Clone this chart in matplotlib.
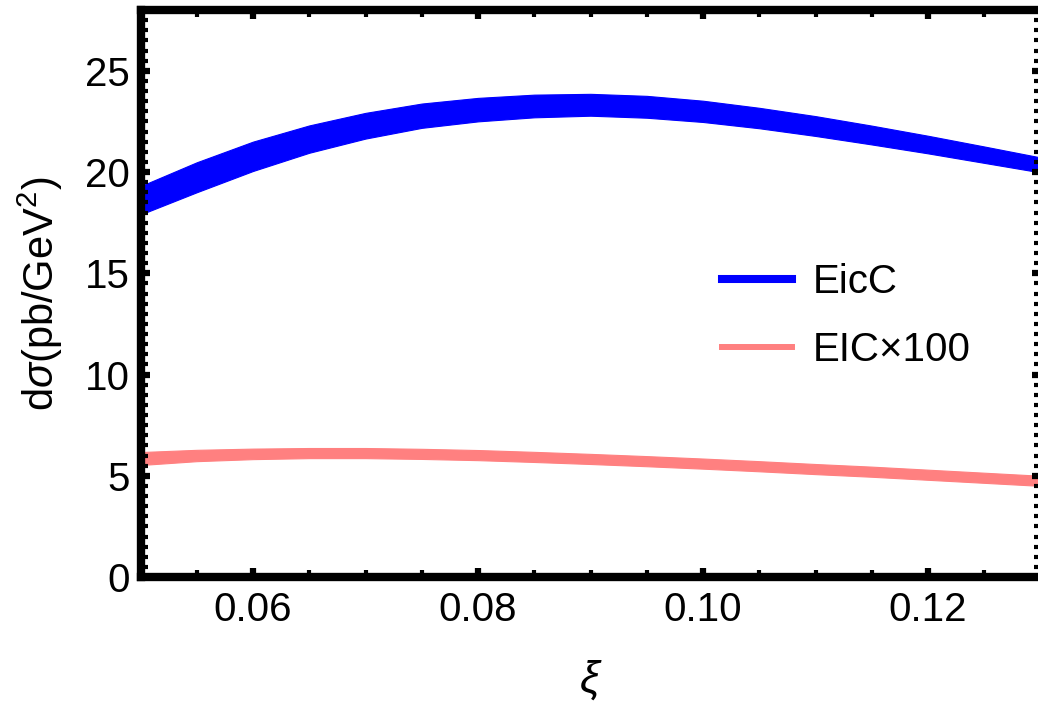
import numpy as np
import matplotlib
matplotlib.use("Agg")
import matplotlib.pyplot as plt
from matplotlib.ticker import MultipleLocator
from matplotlib.lines import Line2D

plt.rcParams['font.family'] = ['Liberation Sans', 'DejaVu Sans']
plt.rcParams['mathtext.fontset'] = 'custom'
plt.rcParams['mathtext.rm'] = 'Liberation Sans'
plt.rcParams['mathtext.it'] = 'Liberation Sans:italic'

# xi grid and band edges
xi = [0.050, 0.055, 0.060, 0.065, 0.070, 0.075, 0.080, 0.085, 0.090,
      0.095, 0.100, 0.105, 0.110, 0.115, 0.120, 0.125, 0.130]

eicc_hi = [19.3, 20.48, 21.5, 22.3, 22.92, 23.38, 23.66, 23.82, 23.86,
           23.76, 23.52, 23.17, 22.76, 22.29, 21.79, 21.26, 20.72]
eicc_lo = [17.9, 19.0, 20.05, 20.95, 21.65, 22.18, 22.5, 22.7, 22.78,
           22.68, 22.47, 22.16, 21.78, 21.36, 20.92, 20.45, 19.98]

eic_hi = [6.17, 6.28, 6.34, 6.37, 6.37, 6.33, 6.27, 6.18, 6.08,
          5.97, 5.85, 5.72, 5.58, 5.45, 5.30, 5.15, 5.00]
eic_lo = [5.53, 5.72, 5.82, 5.87, 5.87, 5.83, 5.77, 5.68, 5.58,
          5.47, 5.35, 5.22, 5.08, 4.95, 4.80, 4.65, 4.50]

labels = ['EicC', 'EIC\u00d7100']
colors = ['#0000ff', '#ff8080']

W, H = 1038, 701
fig = plt.figure(figsize=(W / 100, H / 100), dpi=100)
ax = fig.add_axes([140.5 / W, (H - 577) / H, 900 / W, 567 / H])

ax.fill_between(xi, eicc_lo, eicc_hi, color=colors[0], lw=0.8, edgecolor=colors[0])
ax.fill_between(xi, eic_lo, eic_hi, color=colors[1], lw=0.8, edgecolor=colors[1])

ax.set_xlim(0.05, 0.13)
ax.set_ylim(0, 28)
ax.xaxis.set_minor_locator(MultipleLocator(0.005))
ax.yaxis.set_major_locator(MultipleLocator(5))
ax.yaxis.set_minor_locator(MultipleLocator(0.5))
ax.set_xticks([0.06, 0.08, 0.10, 0.12])
ax.set_xticklabels(['0.06', '0.08', '0.10', '0.12'])

for s in ['left', 'bottom', 'top']:
    ax.spines[s].set_linewidth(6)
ax.spines['right'].set_visible(False)

ax.tick_params(which='both', direction='in', top=True, right=True,
               labelsize=29, color='black')
ax.tick_params(which='major', length=6.5, width=4.5)
ax.tick_params(which='minor', length=5, width=3)
ax.tick_params(axis='y', which='major', pad=8)
ax.tick_params(axis='x', which='major', pad=10)

ax.set_ylabel(r'd$\sigma$(pb/GeV$^2$)', fontsize=30)
ax.yaxis.label.set_va('center')
ax.yaxis.set_label_coords(-0.1117, 0.5)
ax.set_xlabel(r'$\xi$', fontsize=32)
ax.xaxis.label.set_va('center')
ax.xaxis.set_label_coords(0.5, -0.182)

handles = [Line2D([], [], color=colors[0], lw=5.8),
           Line2D([], [], color=colors[1], lw=4.3)]
ax.legend(handles, labels, loc='center left', bbox_to_anchor=(0.646, 0.46),
          frameon=False, fontsize=29, handlelength=1.74, handletextpad=0.52,
          labelspacing=0.74, borderpad=0, borderaxespad=0)

fig.savefig('out.png', dpi=100)
